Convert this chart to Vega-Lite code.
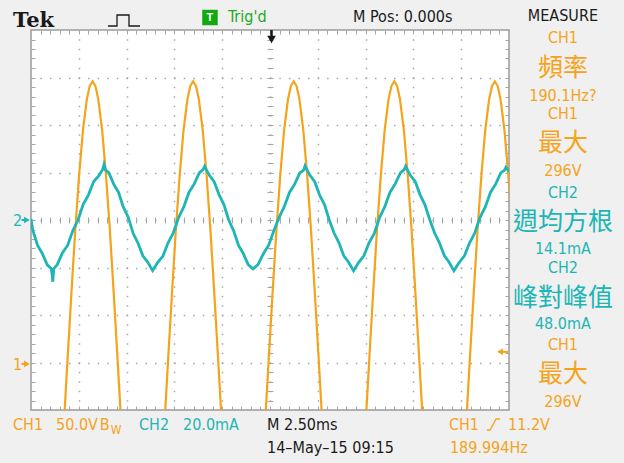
{
"$schema": "https://vega.github.io/schema/vega-lite/v6.json",
"width": 478, "height": 380,
"autosize": {"type": "none"},
"padding": {"left": 31, "top": 30, "right": 115, "bottom": 53},
"background": "#f0f0f0",
"config": {"view": {"fill": "white", "stroke": "#9a9a9a", "strokeWidth": 1.5}, "font": "Liberation Sans Narrow, DejaVu Sans Condensed, Liberation Sans"},
"datasets": {
"ch1": [
{"t":-10.78,"v":-65},{"t":-10.58,"v":6},{"t":-10.38,"v":75},{"t":-10.18,"v":141},{"t":-9.98,"v":198},{"t":-9.78,"v":245},{"t":-9.58,"v":277},{"t":-9.43,"v":291},{"t":-9.28,"v":296},{"t":-9.13,"v":291},{"t":-8.98,"v":277},{"t":-8.78,"v":245},{"t":-8.58,"v":198},{"t":-8.38,"v":141},{"t":-8.18,"v":75},{"t":-7.98,"v":6},{"t":-7.78,"v":-65},
{"t":-5.52,"v":-65},{"t":-5.32,"v":6},{"t":-5.12,"v":75},{"t":-4.92,"v":141},{"t":-4.72,"v":198},{"t":-4.52,"v":245},{"t":-4.32,"v":277},{"t":-4.17,"v":291},{"t":-4.02,"v":296},{"t":-3.87,"v":291},{"t":-3.72,"v":277},{"t":-3.52,"v":245},{"t":-3.32,"v":198},{"t":-3.12,"v":141},{"t":-2.92,"v":75},{"t":-2.72,"v":6},{"t":-2.52,"v":-65},
{"t":-0.26,"v":-65},{"t":-0.06,"v":6},{"t":0.14,"v":75},{"t":0.34,"v":141},{"t":0.54,"v":198},{"t":0.74,"v":245},{"t":0.94,"v":277},{"t":1.09,"v":291},{"t":1.24,"v":296},{"t":1.39,"v":291},{"t":1.54,"v":277},{"t":1.74,"v":245},{"t":1.94,"v":198},{"t":2.14,"v":141},{"t":2.34,"v":75},{"t":2.54,"v":6},{"t":2.74,"v":-65},
{"t":5.0,"v":-65},{"t":5.2,"v":6},{"t":5.4,"v":75},{"t":5.6,"v":141},{"t":5.8,"v":198},{"t":6.0,"v":245},{"t":6.2,"v":277},{"t":6.35,"v":291},{"t":6.5,"v":296},{"t":6.65,"v":291},{"t":6.8,"v":277},{"t":7.0,"v":245},{"t":7.2,"v":198},{"t":7.4,"v":141},{"t":7.6,"v":75},{"t":7.8,"v":6},{"t":8.0,"v":-65},
{"t":10.26,"v":-65},{"t":10.46,"v":6},{"t":10.66,"v":75},{"t":10.86,"v":141},{"t":11.06,"v":198},{"t":11.26,"v":245},{"t":11.46,"v":277},{"t":11.61,"v":291},{"t":11.76,"v":296},{"t":11.91,"v":291},{"t":12.06,"v":277},{"t":12.26,"v":245},{"t":12.46,"v":198},{"t":12.66,"v":141},{"t":12.86,"v":75},{"t":13.06,"v":6},{"t":13.26,"v":-65}
],
"ch2": [
{"t":-12.5,"i":0.5},{"t":-12.41,"i":-4.2},{"t":-12.16,"i":-10.6},{"t":-11.91,"i":-14.1},{"t":-11.65,"i":-18.9},{"t":-11.45,"i":-20.4},{"t":-11.4,"i":-22.5},{"t":-11.36,"i":-26},{"t":-11.31,"i":-20.5},{"t":-11.13,"i":-18.8},{"t":-10.86,"i":-13.9},{"t":-10.58,"i":-10.6},{"t":-10.31,"i":-4.4},{"t":-10.04,"i":0},{"t":-9.77,"i":6.6},{"t":-9.5,"i":10.5},{"t":-9.22,"i":16.2},{"t":-8.95,"i":18.7},{"t":-8.75,"i":21.3},{"t":-8.68,"i":23.4},{"t":-8.6,"i":21},{"t":-8.43,"i":19.9},{"t":-8.17,"i":15},{"t":-7.92,"i":11.6},{"t":-7.67,"i":5.4},{"t":-7.41,"i":1.1},{"t":-7.16,"i":-5.6},{"t":-6.91,"i":-9.6},{"t":-6.65,"i":-15.1},{"t":-6.4,"i":-17.7},{"t":-6.14,"i":-21.3},
{"t":-5.87,"i":-17.8},{"t":-5.6,"i":-15.2},{"t":-5.33,"i":-9.6},{"t":-5.06,"i":-5.5},{"t":-4.78,"i":1},{"t":-4.51,"i":5.5},{"t":-4.24,"i":11.6},{"t":-3.97,"i":15.1},{"t":-3.7,"i":19.8},{"t":-3.5,"i":21.2},{"t":-3.42,"i":22.6},{"t":-3.17,"i":18.8},{"t":-2.92,"i":16.1},{"t":-2.66,"i":10.6},{"t":-2.41,"i":6.5},{"t":-2.16,"i":0},{"t":-1.9,"i":-4.5},{"t":-1.65,"i":-10.6},{"t":-1.4,"i":-14.1},{"t":-1.14,"i":-18.8},{"t":-0.89,"i":-20.6},
{"t":-0.62,"i":-18.7},{"t":-0.34,"i":-14.1},{"t":-0.07,"i":-10.6},{"t":0.2,"i":-4.5},{"t":0.47,"i":1},{"t":0.74,"i":5.5},{"t":1.02,"i":11.6},{"t":1.29,"i":15.1},{"t":1.56,"i":19.8},{"t":1.76,"i":21},{"t":1.83,"i":22.8},{"t":2.09,"i":18.8},{"t":2.34,"i":16.1},{"t":2.59,"i":10.6},{"t":2.85,"i":6.5},{"t":3.1,"i":0},{"t":3.35,"i":-5.5},{"t":3.61,"i":-9.6},{"t":3.86,"i":-15.1},{"t":4.11,"i":-17.8},{"t":4.37,"i":-21.4},
{"t":4.64,"i":-17.8},{"t":4.91,"i":-15.1},{"t":5.18,"i":-9.6},{"t":5.46,"i":-5.5},{"t":5.73,"i":1},{"t":6.0,"i":5.5},{"t":6.27,"i":11.6},{"t":6.54,"i":15.1},{"t":6.82,"i":19.8},{"t":7.02,"i":21.2},{"t":7.09,"i":22.6},{"t":7.34,"i":18.8},{"t":7.6,"i":16.1},{"t":7.85,"i":10.6},{"t":8.1,"i":6.5},{"t":8.36,"i":0},{"t":8.61,"i":-5.5},{"t":8.86,"i":-9.6},{"t":9.12,"i":-15.1},{"t":9.37,"i":-17.8},{"t":9.62,"i":-21.4},
{"t":9.9,"i":-17.8},{"t":10.17,"i":-15.1},{"t":10.44,"i":-9.6},{"t":10.71,"i":-5.5},{"t":10.98,"i":1},{"t":11.26,"i":5.5},{"t":11.53,"i":11.6},{"t":11.8,"i":15.1},{"t":12.07,"i":19.8},{"t":12.27,"i":21},{"t":12.34,"i":22.2},{"t":12.5,"i":20.5}
],
"panelSmall": [
{"label":"MEASURE","t":15.32,"d":4.29,"ch":"K"},
{"label":"CH1","t":15.32,"d":3.83,"ch":"CH1"},
{"label":"190.1Hz?","t":15.32,"d":2.62,"ch":"CH1"},
{"label":"CH1","t":15.32,"d":2.23,"ch":"CH1"},
{"label":"296V","t":15.32,"d":1.04,"ch":"CH1"},
{"label":"CH2","t":15.32,"d":0.567,"ch":"CH2"},
{"label":"14.1mA","t":15.32,"d":-0.6,"ch":"CH2"},
{"label":"CH2","t":15.32,"d":-1.012,"ch":"CH2"},
{"label":"48.0mA","t":15.32,"d":-2.19,"ch":"CH2"},
{"label":"CH1","t":15.32,"d":-2.63,"ch":"CH1"},
{"label":"296V","t":15.32,"d":-3.84,"ch":"CH1"}
],
"panelBig": [
{"label":"頻率","t":15.32,"d":3.21,"ch":"CH1"},
{"label":"最大","t":15.32,"d":1.621,"ch":"CH1"},
{"label":"週均方根","t":15.32,"d":-0.032,"ch":"CH2"},
{"label":"峰對峰值","t":15.32,"d":-1.632,"ch":"CH2"},
{"label":"最大","t":15.32,"d":-3.24,"ch":"CH1"}
],
"leftText": [
{"label":"M Pos: 0.000s","t":4.34,"d":4.168,"ch":"K"},
{"label":"Trig'd","t":-2.2,"d":4.168,"ch":"G"},
{"label":"CH1","t":-13.44,"d":-4.421,"ch":"CH1"},
{"label":"50.0V","t":-11.19,"d":-4.421,"ch":"CH1"},
{"label":"B","t":-8.9,"d":-4.421,"ch":"CH1"},
{"label":"CH2","t":-6.85,"d":-4.421,"ch":"CH2"},
{"label":"20.0mA","t":-4.55,"d":-4.421,"ch":"CH2"},
{"label":"M 2.50ms","t":-0.157,"d":-4.421,"ch":"K"},
{"label":"CH1","t":9.36,"d":-4.421,"ch":"CH1"},
{"label":"11.2V","t":12.45,"d":-4.421,"ch":"CH1"},
{"label":"14–May–15 09:15","t":-0.157,"d":-4.905,"ch":"K"},
{"label":"189.994Hz","t":9.41,"d":-4.905,"ch":"CH1"},
{"label":"2","t":-13.44,"d":-0.126,"ch":"CH2"},
{"label":"1","t":-13.44,"d":-3.158,"ch":"CH1"}
],
"logo": [{"label":"Tek","t":-13.44,"d":4.063,"ch":"K"}],
"sub": [{"label":"W","t":-8.33,"d":-4.505,"ch":"CH1"}],
"box": [{"label":"T","t":-3.14,"d":4.263,"ch":"G"}],
"sep": [{"d":4.021},{"d":2.4},{"d":0.821},{"d":-0.821},{"d":-2.421},{"d":-4.021}],
"triRight": [{"t":-12.71,"d":0,"ch":"CH2"},{"t":-12.71,"d":-3.03,"ch":"CH1"}],
"triLeft": [{"t":12.03,"d":-2.776,"ch":"CH1"}],
"triDown": [{"t":0.08,"d":3.8,"ch":"K"}],
"stemsH": [{"t":-13.0,"t2":-12.71,"d":0,"ch":"CH2"},{"t":-13.0,"t2":-12.71,"d":-3.03,"ch":"CH1"},{"t":12.03,"t2":12.45,"d":-2.776,"ch":"CH1"}],
"stemsV": [{"t":0.08,"d":4.0,"d2":3.84,"ch":"K"}],
"icons": [
{"icon":"pulse","k":0,"t":-8.473,"d":4.084,"ch":"K"},{"icon":"pulse","k":1,"t":-8.002,"d":4.084,"ch":"K"},{"icon":"pulse","k":2,"t":-8.002,"d":4.316,"ch":"K"},{"icon":"pulse","k":3,"t":-7.374,"d":4.316,"ch":"K"},{"icon":"pulse","k":4,"t":-7.374,"d":4.084,"ch":"K"},{"icon":"pulse","k":5,"t":-6.799,"d":4.084,"ch":"K"},
{"icon":"slope","k":0,"t":11.35,"d":-4.421,"ch":"CH1"},{"icon":"slope","k":1,"t":11.51,"d":-4.421,"ch":"CH1"},{"icon":"slope","k":2,"t":11.82,"d":-4.189,"ch":"CH1"},{"icon":"slope","k":3,"t":12.03,"d":-4.189,"ch":"CH1"}
]
},
"layer": [
{
"resolve": {"axis": {"x": "independent", "y": "independent"}},
"encoding": {
"x": {"field": "t", "type": "quantitative", "scale": {"domain": [-12.5, 12.5], "nice": false, "zero": false}},
"y": {"field": "d", "type": "quantitative", "scale": {"domain": [-4, 4], "nice": false, "zero": false}},
"color": {"field": "ch", "type": "nominal", "scale": {"domain": ["CH1", "CH2", "K", "G"], "range": ["#f5a31a", "#1db5b5", "#1a1a1a", "#22aa22"]}, "legend": null}
},
"layer": [
{"data": {"name": "panelSmall"}, "mark": {"type": "text", "align": "center", "baseline": "middle", "fontSize": 16},
 "encoding": {"text": {"field": "label"},
  "x": {"field": "t", "type": "quantitative", "axis": {"orient": "bottom", "values": [-10,-7.5,-5,-2.5,0,2.5,5,7.5,10], "grid": true, "gridDash": [1.5, 8], "gridDashOffset": 0.75, "gridColor": "#a6a6a6", "gridWidth": 1.5, "ticks": false, "labels": false, "domain": false, "title": null}},
  "y": {"field": "d", "type": "quantitative", "axis": {"orient": "left", "values": [-3,-2,-1,0,1,2,3], "grid": true, "gridDash": [1.5, 8.06], "gridDashOffset": 0.75, "gridColor": "#a6a6a6", "gridWidth": 1.5, "ticks": false, "labels": false, "domain": false, "title": null}}}},
{"data": {"name": "panelBig"}, "mark": {"type": "text", "align": "center", "baseline": "middle", "fontSize": 25, "font": "Noto Sans CJK TC"},
 "encoding": {"text": {"field": "label"},
  "x": {"field": "t", "type": "quantitative", "axis": {"orient": "bottom", "offset": -4, "tickSize": 4, "values": [-12,-11.5,-11,-10.5,-10,-9.5,-9,-8.5,-8,-7.5,-7,-6.5,-6,-5.5,-5,-4.5,-4,-3.5,-3,-2.5,-2,-1.5,-1,-0.5,0,0.5,1,1.5,2,2.5,3,3.5,4,4.5,5,5.5,6,6.5,7,7.5,8,8.5,9,9.5,10,10.5,11,11.5,12], "tickColor": "#a6a6a6", "tickWidth": 1, "labels": false, "domain": false, "grid": false, "title": null}},
  "y": {"field": "d", "type": "quantitative", "axis": {"orient": "left", "offset": -4, "tickSize": 4, "values": [-3.8,-3.6,-3.4,-3.2,-3,-2.8,-2.6,-2.4,-2.2,-2,-1.8,-1.6,-1.4,-1.2,-1,-0.8,-0.6,-0.4,-0.2,0,0.2,0.4,0.6,0.8,1,1.2,1.4,1.6,1.8,2,2.2,2.4,2.6,2.8,3,3.2,3.4,3.6,3.8], "tickColor": "#a6a6a6", "tickWidth": 1, "labels": false, "domain": false, "grid": false, "title": null}}}},
{"data": {"name": "leftText"}, "mark": {"type": "text", "align": "left", "baseline": "alphabetic", "fontSize": 16},
 "encoding": {"text": {"field": "label"},
  "x": {"field": "t", "type": "quantitative", "axis": {"orient": "top", "offset": -4, "tickSize": 4, "values": [-12,-11.5,-11,-10.5,-10,-9.5,-9,-8.5,-8,-7.5,-7,-6.5,-6,-5.5,-5,-4.5,-4,-3.5,-3,-2.5,-2,-1.5,-1,-0.5,0,0.5,1,1.5,2,2.5,3,3.5,4,4.5,5,5.5,6,6.5,7,7.5,8,8.5,9,9.5,10,10.5,11,11.5,12], "tickColor": "#a6a6a6", "tickWidth": 1, "labels": false, "domain": false, "grid": false, "title": null}},
  "y": {"field": "d", "type": "quantitative", "axis": {"orient": "right", "offset": -4, "tickSize": 4, "values": [-3.8,-3.6,-3.4,-3.2,-3,-2.8,-2.6,-2.4,-2.2,-2,-1.8,-1.6,-1.4,-1.2,-1,-0.8,-0.6,-0.4,-0.2,0,0.2,0.4,0.6,0.8,1,1.2,1.4,1.6,1.8,2,2.2,2.4,2.6,2.8,3,3.2,3.4,3.6,3.8], "tickColor": "#a6a6a6", "tickWidth": 1, "labels": false, "domain": false, "grid": false, "title": null}}}},
{"data": {"name": "logo"}, "mark": {"type": "text", "align": "left", "baseline": "alphabetic", "fontSize": 21, "font": "DejaVu Serif", "fontWeight": "bold"},
 "encoding": {"text": {"field": "label"},
  "x": {"field": "t", "type": "quantitative", "axis": {"orient": "bottom", "offset": -193, "tickSize": 6, "values": [-12,-11.5,-11,-10.5,-10,-9.5,-9,-8.5,-8,-7.5,-7,-6.5,-6,-5.5,-5,-4.5,-4,-3.5,-3,-2.5,-2,-1.5,-1,-0.5,0,0.5,1,1.5,2,2.5,3,3.5,4,4.5,5,5.5,6,6.5,7,7.5,8,8.5,9,9.5,10,10.5,11,11.5,12], "tickColor": "#a6a6a6", "tickWidth": 1, "labels": false, "domain": false, "grid": false, "title": null}},
  "y": {"field": "d", "type": "quantitative", "axis": {"orient": "left", "offset": -242, "tickSize": 6, "values": [-3.8,-3.6,-3.4,-3.2,-3,-2.8,-2.6,-2.4,-2.2,-2,-1.8,-1.6,-1.4,-1.2,-1,-0.8,-0.6,-0.4,-0.2,0,0.2,0.4,0.6,0.8,1,1.2,1.4,1.6,1.8,2,2.2,2.4,2.6,2.8,3,3.2,3.4,3.6,3.8], "tickColor": "#a6a6a6", "tickWidth": 1, "labels": false, "domain": false, "grid": false, "title": null}}}},
{"data": {"name": "sub"}, "mark": {"type": "text", "align": "left", "baseline": "alphabetic", "fontSize": 12},
 "encoding": {"text": {"field": "label"}, "x": {"field": "t", "type": "quantitative", "axis": null}, "y": {"field": "d", "type": "quantitative", "axis": null}}},
{"data": {"name": "sep"}, "mark": {"type": "rule", "color": "#9a9a9a", "strokeWidth": 1.5},
 "encoding": {"x": {"datum": 12.97, "type": "quantitative", "axis": null}, "x2": {"datum": 17.63}, "y": {"field": "d", "type": "quantitative", "axis": null}, "color": {"value": "#9a9a9a"}}},
{"data": {"name": "box"}, "mark": {"type": "point", "shape": "square", "filled": true, "size": 240, "opacity": 1},
 "encoding": {"x": {"field": "t", "type": "quantitative", "axis": null}, "y": {"field": "d", "type": "quantitative", "axis": null}, "color": {"value": "#12a812"}}},
{"data": {"name": "box"}, "mark": {"type": "text", "align": "center", "baseline": "middle", "fontSize": 11, "fontWeight": "bold", "font": "Liberation Sans"},
 "encoding": {"text": {"field": "label"}, "x": {"field": "t", "type": "quantitative", "axis": null}, "y": {"field": "d", "type": "quantitative", "axis": null}, "color": {"value": "white"}}},
{"data": {"name": "triRight"}, "mark": {"type": "point", "shape": "triangle-right", "filled": true, "size": 45, "opacity": 1},
 "encoding": {"x": {"field": "t", "type": "quantitative", "axis": null}, "y": {"field": "d", "type": "quantitative", "axis": null}}},
{"data": {"name": "triLeft"}, "mark": {"type": "point", "shape": "triangle-left", "filled": true, "size": 45, "opacity": 1},
 "encoding": {"x": {"field": "t", "type": "quantitative", "axis": null}, "y": {"field": "d", "type": "quantitative", "axis": null}}},
{"data": {"name": "triDown"}, "mark": {"type": "point", "shape": "triangle-down", "filled": true, "size": 75, "opacity": 1},
 "encoding": {"x": {"field": "t", "type": "quantitative", "axis": null}, "y": {"field": "d", "type": "quantitative", "axis": null}}},
{"data": {"name": "stemsH"}, "mark": {"type": "rule", "strokeWidth": 2},
 "encoding": {"x": {"field": "t", "type": "quantitative", "axis": null}, "x2": {"field": "t2"}, "y": {"field": "d", "type": "quantitative", "axis": null}}},
{"data": {"name": "stemsV"}, "mark": {"type": "rule", "strokeWidth": 2.5},
 "encoding": {"x": {"field": "t", "type": "quantitative", "axis": null}, "y": {"field": "d", "type": "quantitative", "axis": null}, "y2": {"field": "d2"}}},
{"data": {"name": "icons"}, "mark": {"type": "line", "strokeWidth": 1.3},
 "encoding": {"x": {"field": "t", "type": "quantitative", "axis": null}, "y": {"field": "d", "type": "quantitative", "axis": null}, "detail": {"field": "icon"}, "order": {"field": "k"}}}
]
},
{"data": {"name": "ch1"}, "mark": {"type": "line", "clip": true, "color": "#f5a31a", "strokeWidth": 2.2},
 "encoding": {"x": {"field": "t", "type": "quantitative", "scale": {"domain": [-12.5, 12.5], "nice": false, "zero": false}, "axis": null},
  "y": {"field": "v", "type": "quantitative", "scale": {"domain": [-50, 350], "nice": false, "zero": false}, "axis": null}}},
{"data": {"name": "ch2"}, "mark": {"type": "line", "clip": true, "color": "#1db5b5", "strokeWidth": 2.8},
 "encoding": {"x": {"field": "t", "type": "quantitative", "scale": {"domain": [-12.5, 12.5], "nice": false, "zero": false}, "axis": null},
  "y": {"field": "i", "type": "quantitative", "scale": {"domain": [-80, 80], "nice": false, "zero": false}, "axis": null}}}
],
"resolve": {"scale": {"y": "independent"}, "axis": {"x": "independent", "y": "independent"}}
}
